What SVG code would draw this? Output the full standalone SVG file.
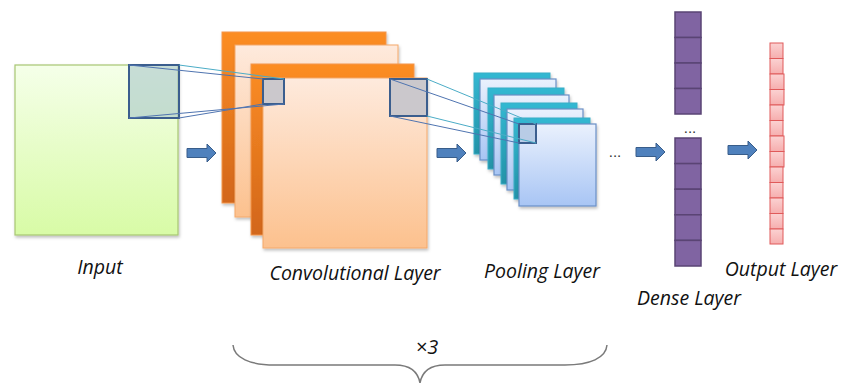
<svg xmlns="http://www.w3.org/2000/svg" width="842" height="383" viewBox="0 0 842 383">
  <defs>
    <linearGradient id="gInput" x1="0" y1="0" x2="0" y2="1">
      <stop offset="0" stop-color="#f5ffe9"/>
      <stop offset="1" stop-color="#d8fba6"/>
    </linearGradient>
    <linearGradient id="gOrange" x1="0" y1="0" x2="0" y2="1">
      <stop offset="0" stop-color="#fc8d24"/>
      <stop offset="1" stop-color="#d2661a"/>
    </linearGradient>
    <linearGradient id="gPeach" x1="0" y1="0" x2="0" y2="1">
      <stop offset="0" stop-color="#feeadd"/>
      <stop offset="1" stop-color="#fcc18e"/>
    </linearGradient>
    <linearGradient id="gTeal" x1="0" y1="0" x2="0" y2="1">
      <stop offset="0" stop-color="#33b8d2"/>
      <stop offset="1" stop-color="#2493a8"/>
    </linearGradient>
    <linearGradient id="gBlue" x1="0" y1="0" x2="0" y2="1">
      <stop offset="0" stop-color="#eaf1fd"/>
      <stop offset="1" stop-color="#a8c5f4"/>
    </linearGradient>
    <linearGradient id="gPink" x1="0" y1="0" x2="0" y2="1">
      <stop offset="0" stop-color="#fbd2d2"/>
      <stop offset="1" stop-color="#f6aeae"/>
    </linearGradient>
    <filter id="shadow" x="-10%" y="-10%" width="130%" height="130%">
      <feDropShadow dx="1" dy="2" stdDeviation="1.5" flood-color="#000" flood-opacity="0.25"/>
    </filter>
    <path id="blockArrow" d="M0,4.5 H20 V0 L29,9 L20,18 V13.5 H0 Z"/>
  </defs>
  <style>
    .label { font-family: "Open Sans", "Liberation Sans", sans-serif; font-style: italic; font-size: 19.5px; fill: #111; }
    .dots { font-family: "Liberation Sans", sans-serif; font-size: 15px; fill: #333; }
    .orange { fill: url(#gOrange); stroke: #f3954a; stroke-width: 1; filter: url(#shadow); }
    .peach { fill: url(#gPeach); stroke: #f4a86a; stroke-width: 1; filter: url(#shadow); }
    .teal { fill: url(#gTeal); stroke: #3aaec6; stroke-width: 1; filter: url(#shadow); }
    .lblue { fill: url(#gBlue); stroke: #6a8fc6; stroke-width: 1.2; filter: url(#shadow); }
    .patch { stroke: #3b5e8e; stroke-width: 2; }
    .link-a { stroke: #4bacc6; stroke-width: 1; fill: none; }
    .link-b { stroke: #4f74b0; stroke-width: 1; fill: none; }
    .arrow { fill: #4f81bd; stroke: #385d8a; stroke-width: 1; }
    .dense { fill: #8064a2; stroke: #5a4474; stroke-width: 1.5; }
    .out { fill: url(#gPink); stroke: #e05a5a; stroke-width: 1; }
  </style>

  <!-- input image -->
  <g id="input">
    <rect x="15" y="65" width="163" height="170" fill="url(#gInput)" stroke="#a7c672" stroke-width="1.2" filter="url(#shadow)"/>
    <rect x="129" y="65" width="50" height="53" fill="#a9c6c9" fill-opacity="0.6" class="patch"/>
    <text class="label" x="100" y="274" text-anchor="middle">Input</text>
  </g>

  <!-- convolutional feature maps -->
  <g id="conv">
    <rect class="orange" x="222" y="32" width="164" height="171"/>
    <rect class="peach" x="235" y="45" width="163" height="172"/>
    <rect class="orange" x="251" y="64" width="163" height="171"/>
    <rect class="peach" x="263" y="78" width="164" height="170"/>
    <rect x="263" y="79" width="21" height="25" fill="#cbc8cc" class="patch"/>
    <rect x="390" y="79" width="37" height="37" fill="#cbc8cc" class="patch"/>
    <text class="label" x="355" y="280" text-anchor="middle">Convolutional Layer</text>
  </g>

  <!-- pooling feature maps -->
  <g id="pool">
    <rect class="teal" x="474" y="73" width="76" height="81"/>
    <rect class="lblue" x="480" y="79" width="76" height="81"/>
    <rect class="teal" x="488" y="88" width="76" height="81"/>
    <rect class="lblue" x="494" y="95" width="75" height="80"/>
    <rect class="teal" x="501" y="103" width="76" height="81"/>
    <rect class="lblue" x="507" y="109" width="76" height="81"/>
    <rect class="teal" x="514" y="118" width="76" height="81"/>
    <rect class="lblue" x="519" y="124" width="77" height="82"/>
    <rect x="519" y="124" width="17" height="19" fill="#b8cce6" class="patch"/>
    <text class="label" x="542" y="278" text-anchor="middle">Pooling Layer</text>
  </g>

  <!-- fully connected layer -->
  <g id="dense">
    <rect class="dense" x="675" y="12" width="26" height="25.5"/>
    <rect class="dense" x="675" y="37.5" width="26" height="25.5"/>
    <rect class="dense" x="675" y="63" width="26" height="25.5"/>
    <rect class="dense" x="675" y="88.5" width="26" height="25.5"/>
    <text class="dots" x="690" y="133" text-anchor="middle">...</text>
    <rect class="dense" x="675" y="138" width="26" height="25.6"/>
    <rect class="dense" x="675" y="163.6" width="26" height="25.6"/>
    <rect class="dense" x="675" y="189.2" width="26" height="25.6"/>
    <rect class="dense" x="675" y="214.8" width="26" height="25.6"/>
    <rect class="dense" x="675" y="240.4" width="26" height="25.6"/>
    <text class="label" x="689" y="305" text-anchor="middle">Dense Layer</text>
  </g>

  <!-- output vector -->
  <g id="output">
    <rect class="out" x="770" y="43" width="13" height="15.5"/>
    <rect class="out" x="770" y="58.5" width="13" height="15.5"/>
    <rect class="out" x="770" y="74" width="14" height="15.5"/>
    <rect class="out" x="770" y="89.5" width="14" height="15.5"/>
    <rect class="out" x="770" y="105" width="13" height="15.5"/>
    <rect class="out" x="770" y="120.5" width="13" height="15.5"/>
    <rect class="out" x="770" y="136" width="14" height="15.5"/>
    <rect class="out" x="770" y="151.5" width="14" height="15.5"/>
    <rect class="out" x="770" y="167" width="13" height="15.5"/>
    <rect class="out" x="770" y="182.5" width="13" height="15.5"/>
    <rect class="out" x="770" y="198" width="13" height="15.5"/>
    <rect class="out" x="770" y="213.5" width="13" height="15.5"/>
    <rect class="out" x="770" y="229" width="13" height="15"/>
    <text class="label" x="781" y="276" text-anchor="middle">Output Layer</text>
  </g>

  <!-- receptive-field lines and flow arrows -->
  <g id="connectors">
    <line class="link-b" x1="129" y1="65" x2="263" y2="79"/>
    <line class="link-a" x1="179" y1="65" x2="284" y2="79"/>
    <line class="link-b" x1="129" y1="118" x2="284" y2="104"/>
    <line class="link-b" x1="179" y1="118" x2="263" y2="104"/>
    <line class="link-b" x1="390" y1="79" x2="519" y2="124"/>
    <line class="link-a" x1="427" y1="79" x2="536" y2="124"/>
    <line class="link-b" x1="390" y1="116" x2="519" y2="143"/>
    <line class="link-a" x1="427" y1="116" x2="536" y2="143"/>
    <use href="#blockArrow" class="arrow" x="187" y="144"/>
    <use href="#blockArrow" class="arrow" x="437" y="144"/>
    <text class="dots" x="615" y="157" text-anchor="middle">...</text>
    <use href="#blockArrow" class="arrow" x="636" y="143"/>
    <use href="#blockArrow" class="arrow" x="728" y="141"/>
  </g>

  <!-- repetition brace -->
  <g id="repeat">
    <path d="M233,345 C234,358 250,365 275,365 H395 C410,365 418,372 420,383 C422,372 430,365 445,365 H565 C590,365 606,358 607,345" fill="none" stroke="#7a7a7a" stroke-width="1.5"/>
    <text class="label" x="427" y="354" text-anchor="middle" style="font-size:20px">×3</text>
  </g>
</svg>
